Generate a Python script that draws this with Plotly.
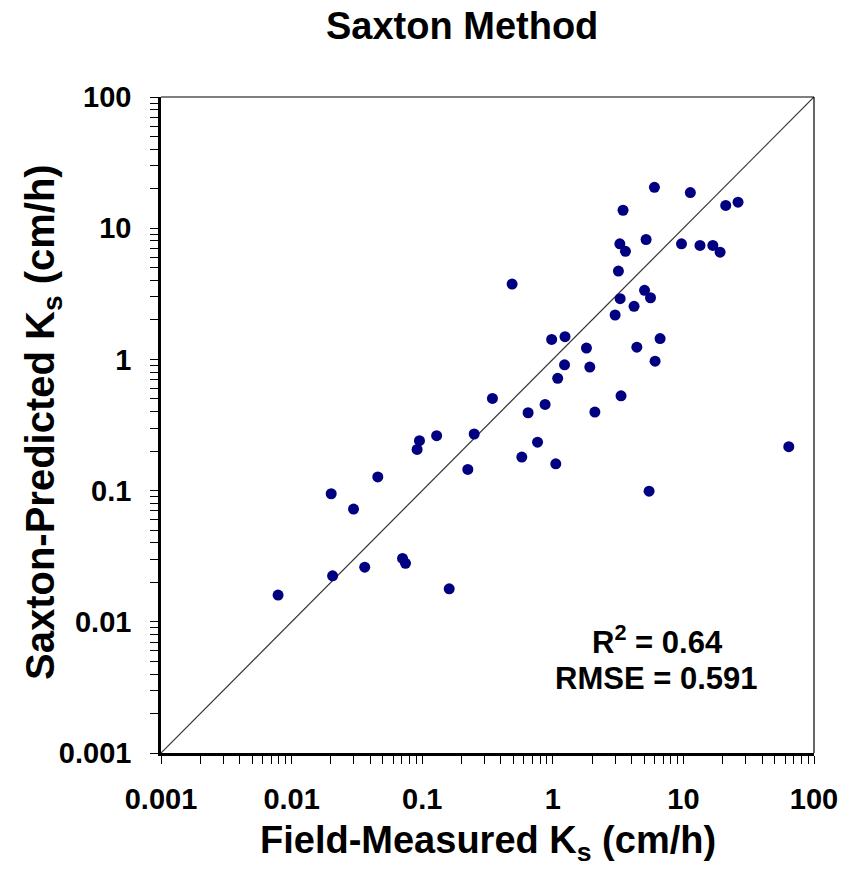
import plotly.graph_objects as go

# Field-measured Ks (cm/h) and Saxton-predicted Ks (cm/h)
field_ks = [
    6.0, 11.3, 21.1, 26.2, 3.45, 3.26, 5.18, 3.6, 9.67, 13.4, 16.8, 19.1,
    3.18, 0.488, 5.04, 5.6, 3.28, 4.19, 3.0, 1.24, 0.98, 6.63, 1.81, 4.4,
    1.23, 1.92, 6.07, 1.09, 0.345, 0.873, 0.647, 2.1, 3.33,
    0.0953, 0.129, 0.25, 0.0914, 0.2235, 0.0457, 0.0201, 0.0298, 0.0707,
    0.0745, 0.0363, 0.0206, 0.161, 0.00788,
    0.764, 0.579, 1.054, 64.1, 5.46,
]
pred_ks = [
    20.5, 18.7, 14.9, 15.8, 13.7, 7.6, 8.2, 6.66, 7.6, 7.39, 7.39, 6.57,
    4.71, 3.75, 3.36, 2.95, 2.9, 2.54, 2.18, 1.49, 1.42, 1.44, 1.22, 1.24,
    0.91, 0.874, 0.97, 0.717, 0.504, 0.454, 0.392, 0.397, 0.528,
    0.24, 0.262, 0.27, 0.206, 0.145, 0.127, 0.0946, 0.0723, 0.0304,
    0.0279, 0.0261, 0.0224, 0.01785, 0.016,
    0.234, 0.18, 0.16, 0.216, 0.099,
]
one_to_one = [0.001, 100]
decades = [0.001, 0.01, 0.1, 1, 10, 100]
decade_labels = ["0.001", "0.01", "0.1", "1", "10", "100"]
minor_vals = [d * m for d in decades[:-1] for m in range(2, 10)]

FONT = "Arial, Liberation Sans, sans-serif"

fig = go.Figure()
fig.add_trace(go.Scatter(x=one_to_one, y=one_to_one, mode="lines",
                         line=dict(color="#333333", width=1.2),
                         hoverinfo="skip", showlegend=False))
fig.add_trace(go.Scatter(x=field_ks, y=pred_ks, mode="markers",
                         marker=dict(color="#000080", size=11, line=dict(width=0)),
                         showlegend=False))

axis_common = dict(
    type="log", range=[-3, 2], tickvals=decades, ticktext=decade_labels,
    ticks="outside", ticklen=8, tickwidth=1.2, tickcolor="black",
    minor=dict(tickvals=minor_vals, ticks="outside", ticklen=8, tickwidth=1.2,
               tickcolor="black", showgrid=False),
    showline=True, linewidth=2.5, linecolor="black", mirror=False,
    showgrid=False, zeroline=False,
    tickfont=dict(family=FONT, size=29, color="black", weight="bold"),
)
fig.update_xaxes(**axis_common, ticklabelstandoff=10)
fig.update_yaxes(**axis_common, ticklabelstandoff=13)

# thin top/right frame
fig.add_shape(type="line", xref="paper", yref="paper", x0=0, x1=1, y0=1, y1=1,
              line=dict(color="black", width=1.2))
fig.add_shape(type="line", xref="paper", yref="paper", x0=1, x1=1, y0=0, y1=1,
              line=dict(color="black", width=1.2))

annots = [
    dict(text="<b>Saxton Method</b>", x=0.461, y=1, yshift=71, size=38),
    dict(text="<b>Field-Measured K<sub>s</sub> (cm/h)</b>", x=0.5, y=0, yshift=-90, size=38),
    dict(text="<b>R<sup>2</sup> = 0.64</b>", x=0.760, y=0.172, yshift=0, size=31),
    dict(text="<b>RMSE = 0.591</b>", x=0.758, y=0.114, yshift=0, size=31),
]
for a in annots:
    fig.add_annotation(text=a["text"], xref="paper", yref="paper", x=a["x"], y=a["y"],
                       yshift=a["yshift"], showarrow=False, xanchor="center", yanchor="middle",
                       font=dict(family=FONT, size=a["size"], color="black"))
fig.add_annotation(text="<b>Saxton-Predicted K<sub>s</sub> (cm/h)</b>", xref="paper", yref="paper",
                   x=0, y=0.5, xshift=-118, yshift=3, textangle=-90, showarrow=False,
                   xanchor="center", yanchor="middle",
                   font=dict(family=FONT, size=40, color="black"))

# page body adds an 8px offset, so the figure is 8px smaller and margins shifted
fig.update_layout(
    width=850, height=866,
    margin=dict(l=153, r=44, t=89, b=121),
    plot_bgcolor="white", paper_bgcolor="white",
    font=dict(family=FONT),
)
fig.write_html("out.html")
